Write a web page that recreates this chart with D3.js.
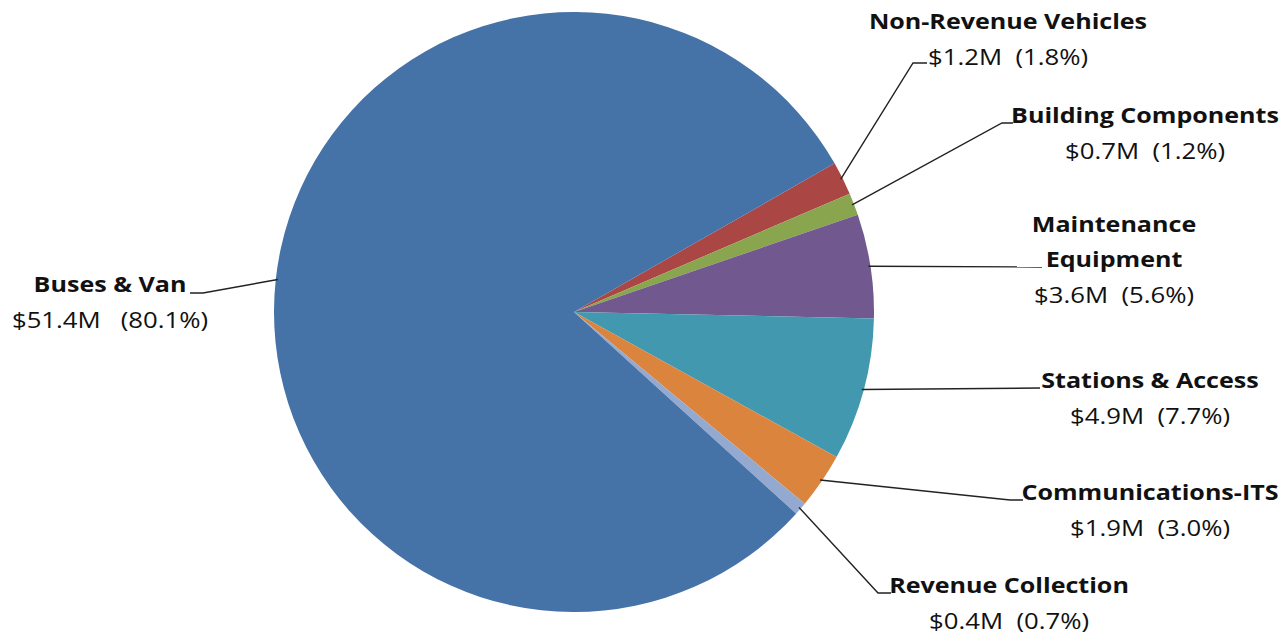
<!DOCTYPE html>
<html>
<head>
<meta charset="utf-8">
<script src="https://cdn.jsdelivr.net/npm/d3@7/dist/d3.min.js"></script>
<style>
  html, body { margin: 0; padding: 0; background: #fff; }
  svg text { font-family: "Open Sans", Lato, sans-serif; fill: #111; white-space: pre; }
</style>
</head>
<body>
<svg id="chart" width="1283" height="637"></svg>
<script>
// ---- data ----
const categories = ["Non-Revenue Vehicles", "Building Components", "Maintenance Equipment",
  "Stations & Access", "Communications-ITS", "Revenue Collection", "Buses & Van"];
const valuesM  = [1.2, 0.7, 3.6, 4.9, 1.9, 0.4, 51.4];   // $ millions
const percents = [1.8, 1.2, 5.6, 7.7, 3.0, 0.7, 80.1];  // share of total
const colors   = ["#AA4643", "#89A54E", "#71588F", "#4198AF", "#DB843D", "#93A9CF", "#4572A7"];

// label title lines and spacing in value line
const labelLines = [
  ["Non-Revenue Vehicles"], ["Building Components"], ["Maintenance", "Equipment"],
  ["Stations & Access"], ["Communications-ITS"], ["Revenue Collection"], ["Buses & Van"]
];
const valueGap = ["  ", "  ", "  ", "  ", "  ", "  ", "   "];
// label anchor: center x, first baseline y, elbow point, line end point
const labelLayout = [
  {cx: 1008, y: 29,  elbow: [913, 63],  end: [927, 63]},
  {cx: 1145, y: 123, elbow: [1002, 123], end: [1013, 123]},
  {cx: 1114, y: 232, elbow: null,        end: [1042, 267]},
  {cx: 1150, y: 388, elbow: null,        end: [1040, 388]},
  {cx: 1150, y: 500, elbow: [1010, 500], end: [1023, 500]},
  {cx: 1009, y: 593, elbow: [878, 593],  end: [891, 593]},
  {cx: 110,  y: 292, elbow: [203, 293],  end: [190, 293]}
];

const cx = 574, cy = 312, R = 300;
const startDeg = 60.3;

const svg = d3.select("#chart");
const g = svg.append("g").attr("transform", `translate(${cx},${cy})`);

const pie = d3.pie().sort(null).value(d => d)
  .startAngle(startDeg * Math.PI / 180)
  .endAngle(startDeg * Math.PI / 180 + 2 * Math.PI);
const arcs = pie(percents);
const arc = d3.arc().innerRadius(0).outerRadius(R);

g.selectAll("path.slice").data(arcs).join("path")
  .attr("class", "slice")
  .attr("d", arc)
  .attr("fill", (d, i) => colors[i]);

// leader lines
arcs.forEach((d, i) => {
  const a = (d.startAngle + d.endAngle) / 2;
  const sx = cx + (R - 2) * Math.sin(a), sy = cy - (R - 2) * Math.cos(a);
  const L = labelLayout[i];
  const pts = [[sx, sy]];
  if (L.elbow) pts.push(L.elbow);
  pts.push(L.end);
  svg.append("path")
    .attr("d", d3.line()(pts))
    .attr("fill", "none")
    .attr("stroke", "#222")
    .attr("stroke-width", 1.4);
});

// labels (horizontally widened to match the reference's letter widths)
const boldScale = 1.14, regScale = 1.17;
function addLine(x, y, txt, bold, sx) {
  svg.append("text")
    .attr("text-anchor", "middle")
    .attr("transform", `translate(${x},${y}) scale(${sx},1)`)
    .attr("font-size", 22)
    .attr("font-weight", bold ? "bold" : "normal")
    .text(txt);
}
categories.forEach((c, i) => {
  const L = labelLayout[i];
  labelLines[i].forEach((ln, k) => addLine(L.cx, L.y + k * 35, ln, true, boldScale));
  const n = labelLines[i].length;
  addLine(L.cx, L.y + (n - 1) * 35 + 36,
    `$${valuesM[i].toFixed(1)}M${valueGap[i]}(${percents[i].toFixed(1)}%)`, false, regScale);
});
</script>
</body>
</html>
